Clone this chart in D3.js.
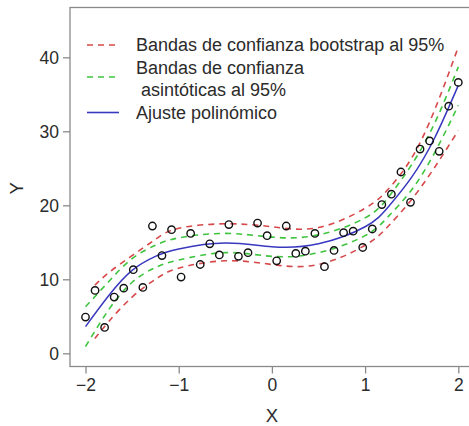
<!DOCTYPE html>
<html>
<head>
<meta charset="utf-8">
<script src="https://cdn.jsdelivr.net/npm/d3@7"></script>
<style>
  html, body { margin: 0; padding: 0; background: #fff; }
  svg { display: block; font-family: "Liberation Sans", Arial, sans-serif; }
</style>
</head>
<body>
<svg id="chart" width="469" height="426"></svg>
<script>
// Observed data: 40 evenly spaced X values from -2 to 2
const obsY = [4.9, 8.5, 3.5, 7.6, 8.8, 11.3, 8.9, 17.2, 13.2, 16.7,
              10.3, 16.2, 12.0, 14.8, 13.3, 17.4, 13.1, 13.6, 17.6, 15.9,
              12.5, 17.2, 13.5, 13.8, 16.2, 11.7, 13.9, 16.3, 16.5, 14.3,
              16.8, 20.1, 21.5, 24.5, 20.4, 27.6, 28.7, 27.3, 33.4, 36.6];
const obsX = obsY.map((_, i) => -2 + i * 4 / (obsY.length - 1));

// Fitted polynomial curve and asymptotic band, sampled along X
const curveX   = [-2, -1.75, -1.5, -1.25, -1, -0.5, 0, 0.5, 1, 1.25, 1.5, 1.75, 2];
const fitY     = [3.6, 7.8, 11.2, 13.1, 14.1, 14.9, 14.4, 14.8, 17.1, 19.8, 23.8, 29.2, 36.2];
const asymUp   = [6.3, 9.7, 12.8, 14.6, 15.6, 16.2, 15.7, 16.0, 18.3, 21.1, 25.5, 31.2, 38.7];
const asymLow  = [0.9, 5.9, 9.6, 11.6, 12.6, 13.6, 13.1, 13.6, 15.9, 18.5, 22.1, 27.2, 33.5];

// Bootstrap band, sampled along X
const bootX    = [-1.9, -1.75, -1.5, -1.25, -1, -0.5, 0, 0.5, 1, 1.25, 1.5, 1.75, 2];
const bootUp   = [9.2, 10.9, 13.2, 15.4, 16.9, 17.5, 17.1, 17.0, 19.6, 22.2, 26.4, 33.0, 41.4];
const bootLow  = [2.0, 4.3, 7.6, 10.0, 11.5, 12.5, 12.0, 12.0, 14.6, 17.2, 20.8, 25.2, 30.1];

const xTicks = [-2, -1, 0, 1, 2];
const yTicks = [0, 10, 20, 30, 40];

const legendLabels = [
  ["Bandas de confianza bootstrap al 95%"],
  ["Bandas de confianza", " asintóticas al 95%"],
  ["Ajuste polinómico"]
];

const RED = "#d6484a", GREEN = "#3ec43e", BLUE = "#3838c0";
const AXIS = "#8a8a8a", TEXT = "#2b2b2b";

const svg = d3.select("#chart");
const x = d3.scaleLinear().domain([-2, 2]).range([85.5, 458.3]);
const y = d3.scaleLinear().domain([0, 40]).range([353.3, 57.3]);

const box = { left: 70, top: 7.5, bottom: 366.5, right: 472 };

// Frame
svg.append("rect")
  .attr("x", box.left).attr("y", box.top)
  .attr("width", box.right - box.left).attr("height", box.bottom - box.top)
  .attr("fill", "none").attr("stroke", AXIS).attr("stroke-width", 1.3);

// Axes
const xAxis = svg.append("g")
  .attr("transform", `translate(0,${box.bottom})`)
  .call(d3.axisBottom(x).tickValues(xTicks).tickSize(7).tickPadding(5).tickFormat(d3.format("d")));
const yAxis = svg.append("g")
  .attr("transform", `translate(${box.left},0)`)
  .call(d3.axisLeft(y).tickValues(yTicks).tickSize(7).tickPadding(4).tickFormat(d3.format("d")));
[xAxis, yAxis].forEach(g => {
  g.select(".domain").remove();
  g.selectAll(".tick line").attr("stroke", AXIS).attr("stroke-width", 1.3);
  g.selectAll(".tick text").attr("fill", TEXT).attr("font-size", 17.5)
    .attr("font-family", "Liberation Sans, Arial, sans-serif");
});
yAxis.selectAll(".tick text").attr("dy", "0.35em");

// Axis titles
svg.append("text").attr("x", x(0)).attr("y", 422)
  .attr("text-anchor", "middle").attr("font-size", 18.5).attr("fill", TEXT).text("X");
svg.append("text")
  .attr("transform", `translate(23,${y(22.3)}) rotate(-90)`)
  .attr("text-anchor", "middle").attr("font-size", 18.5).attr("fill", TEXT).text("Y");

const line = (xs, ys) => d3.line()
  .x((d, i) => x(xs[i])).y(d => y(d)).curve(d3.curveNatural)(ys);

const plot = svg.append("g");

// Bootstrap bands
[bootUp, bootLow].forEach(ys => plot.append("path")
  .attr("d", line(bootX, ys)).attr("fill", "none")
  .attr("stroke", RED).attr("stroke-width", 1.6).attr("stroke-dasharray", "6,5"));

// Asymptotic bands
[asymUp, asymLow].forEach(ys => plot.append("path")
  .attr("d", line(curveX, ys)).attr("fill", "none")
  .attr("stroke", GREEN).attr("stroke-width", 1.6).attr("stroke-dasharray", "6,5"));

// Fitted curve
plot.append("path").attr("d", line(curveX, fitY)).attr("fill", "none")
  .attr("stroke", BLUE).attr("stroke-width", 1.5);

// Observations
plot.selectAll("circle.obs").data(obsY).join("circle")
  .attr("class", "obs")
  .attr("cx", (d, i) => x(obsX[i])).attr("cy", d => y(d)).attr("r", 3.7)
  .attr("fill", "none").attr("stroke", "#111").attr("stroke-width", 1.4);

// Legend
const legend = svg.append("g");
const legItems = [
  { color: RED, dash: "6,5", ys: [45], lineY: 45 },
  { color: GREEN, dash: "6,5", ys: [67.5, 90], lineY: 77 },
  { color: BLUE, dash: null, ys: [112.5], lineY: 112.5 }
];
legItems.forEach((it, k) => {
  legend.append("line")
    .attr("x1", 87).attr("x2", 119).attr("y1", it.lineY).attr("y2", it.lineY)
    .attr("stroke", it.color).attr("stroke-width", 1.6)
    .attr("stroke-dasharray", it.dash);
  legendLabels[k].forEach((t, j) => legend.append("text")
    .attr("x", 136).attr("y", it.ys[j]).attr("dy", "0.35em")
    .attr("font-size", 18).attr("fill", TEXT)
    .attr("xml:space", "preserve").style("white-space", "pre").text(t));
});
</script>
</body>
</html>
